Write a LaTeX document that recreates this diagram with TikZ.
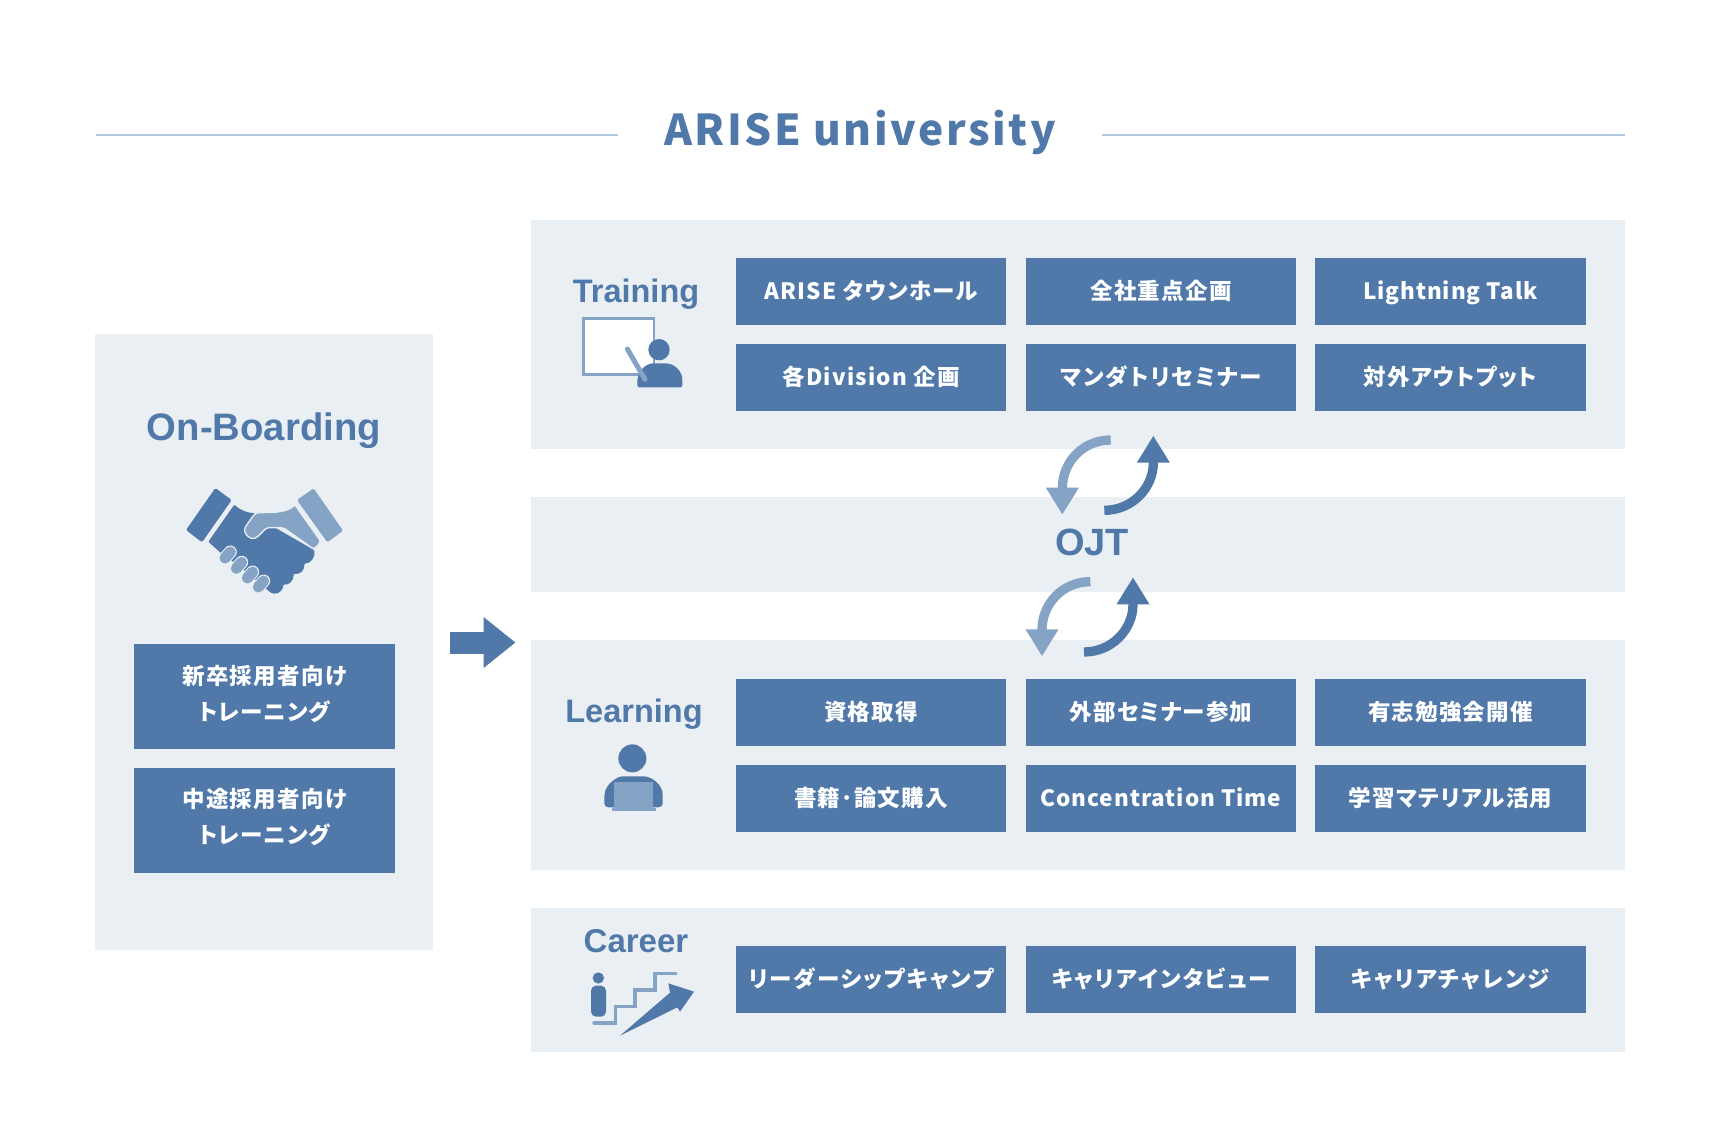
\documentclass[tikz,border=0pt]{standalone}
\usepackage{fontspec}
\usetikzlibrary{arrows.meta}
\setmainfont{Noto Sans CJK JP}
\newfontfamily\jpf[LetterSpace=5.5,RawFeature={+palt}]{Noto Sans CJK JP}
\newfontfamily\kanaf[LetterSpace=8.6,RawFeature={+palt}]{Noto Sans CJK JP}
\newfontfamily\latf[LetterSpace=4.3,RawFeature={+palt}]{Noto Sans CJK JP}
\newfontfamily\titlef[LetterSpace=6]{Noto Sans CJK JP}
\newfontfamily\headf{Liberation Sans}
\definecolor{darkb}{HTML}{5079A9}
\definecolor{lightb}{HTML}{85A3C4}
\definecolor{panelb}{HTML}{EAEFF4}
\definecolor{ruleb}{HTML}{B4C8DD}
\tikzset{
  panel/.style={fill=panelb,draw=none,inner sep=0pt,outer sep=0pt},
  wbox/.style={fill=darkb,text=white,minimum width=270.5pt,minimum height=67pt,inner sep=0pt,outer sep=0pt,align=center,font=\jpf\bfseries\fontsize{22.5}{36}\selectfont,execute at begin node=\strut,execute at end node=\strut},
  kbox/.style={wbox,font=\kanaf\bfseries\fontsize{22.5}{36}\selectfont},
  nbox/.style={wbox,font=\latf\bfseries\fontsize{22.5}{36}\selectfont},
  lbox/.style={wbox,minimum width=261pt,minimum height=105pt},
  head/.style={text=darkb,inner sep=0pt,font=\headf\bfseries\fontsize{32.5}{40}\selectfont},
  rule/.style={draw=ruleb,line width=1.6pt},
  bigflow/.style={draw=darkb,line width=22pt,-{Triangle[length=32pt,width=49pt]}},
  cyclelight/.style={draw=lightb,line width=9.3pt,-{Triangle[length=27pt,width=31pt]}},
  cycledark/.style={draw=darkb,line width=9.3pt,-{Triangle[length=27pt,width=31pt]}},
  zoomed/.style={x=.33333pt,y=-.33333pt},
}
\begin{document}
\begin{tikzpicture}[x=1pt,y=-1pt]
\useasboundingbox (0,0) rectangle (1720,1147);
\fill[white] (0,0) rectangle (1720,1147);
% title
\node[text=darkb,inner sep=0pt,font=\titlef\bfseries\fontsize{42.5}{50}\selectfont] (title) at (860,132) {ARISE university};
\coordinate (rl1) at (95.5,135); \coordinate (rl2) at (618,135);
\coordinate (rr1) at (1102,135); \coordinate (rr2) at (1625,135);
\draw[rule] (rl1) -- (rl2);
\draw[rule] (rr1) -- (rr2);
% panels
\node[panel,minimum width=338pt,minimum height=616pt] (onboard) at (264.25,642) {};
\node[panel,minimum width=1093.5pt,minimum height=229pt] (ptrain) at (1078,334.5) {};
\node[panel,minimum width=1093.5pt,minimum height=95pt] (pojt) at (1078,544.5) {};
\node[panel,minimum width=1093.5pt,minimum height=230pt] (plearn) at (1078,755) {};
\node[panel,minimum width=1093.5pt,minimum height=144pt] (pcareer) at (1078,980) {};
% headings
\node[head,font=\headf\bfseries\fontsize{38.3}{42}\selectfont] (honb) at (264,431) {On-Boarding};
\node[head] (htrain) at (636,294) {Training};
\node[head] (hlearn) at (634,714) {Learning};
\node[head,font=\headf\bfseries\fontsize{33}{40}\selectfont] (hcareer) at (636,941) {Career};
\node[head,font=\headf\bfseries\fontsize{38}{42}\selectfont] (hojt) at (1092,542) {OJT};
% on-boarding boxes
\node[lbox] (lb1) at (264.5,696.5) {\raisebox{-3.3pt}{新卒採用者向け}\\\raisebox{-3.3pt}{トレーニング}};
\node[lbox] (lb2) at (264.5,820) {\raisebox{-3.3pt}{中途採用者向け}\\\raisebox{-3.3pt}{トレーニング}};
% training
\node[wbox] (t1) at (871,291.5) {\raisebox{-1pt}{ARISE タウンホール}};
\node[wbox] (t2) at (1161,291.5) {\raisebox{-1pt}{全社重点企画}};
\node[nbox] (t3) at (1450.5,291.5) {\raisebox{-1pt}{Lightning Talk}};
\node[wbox] (t4) at (871,377.5) {\raisebox{-1pt}{各Division 企画}};
\node[kbox] (t5) at (1161,377.5) {\raisebox{-1pt}{マンダトリセミナー}};
\node[wbox] (t6) at (1450.5,377.5) {\raisebox{-1pt}{対外アウトプット}};
% learning
\node[wbox] (l1) at (871,712) {\raisebox{-1pt}{資格取得}};
\node[wbox] (l2) at (1161,712) {\raisebox{-1pt}{外部セミナー参加}};
\node[wbox] (l3) at (1450.5,712) {\raisebox{-1pt}{有志勉強会開催}};
\node[wbox] (l4) at (871,798) {\raisebox{-1pt}{書籍･論文購入}};
\node[nbox] (l5) at (1161,798) {\raisebox{-1pt}{Concentration Time}};
\node[wbox] (l6) at (1450.5,798) {\raisebox{-1pt}{学習マテリアル活用}};
% career
\node[kbox] (c1) at (871,979.5) {\raisebox{-1pt}{リーダーシップキャンプ}};
\node[kbox] (c2) at (1161,979.5) {\raisebox{-1pt}{キャリアインタビュー}};
\node[kbox] (c3) at (1450.5,979.5) {\raisebox{-1pt}{キャリアチャレンジ}};
% flow arrow
\coordinate (flowS) at (450,642.5); \coordinate (flowE) at (515.5,642.5);
\draw[bigflow] (flowS) -- (flowE);
% OJT cycles
\begin{scope}[shift={(1000,420)},zoomed]
  \foreach \dx/\dy in {0/0,-61/425}{
    \begin{scope}[shift={(\dx,\dy)}]
    \draw[cyclelight] (332,60) .. controls (250,60) and (187,125) .. (187,205) -- (187,284);
    \draw[cycledark] (313,271) .. controls (395,271) and (460,205) .. (460,128) -- (460,47);
    \end{scope}
  }
\end{scope}
% handshake
\begin{scope}[shift={(140,470)},zoomed]
  \fill[darkb,rounded corners=1.5pt] (226,54) -- (275,90) -- (186,217) -- (138,180) -- cycle;
  \fill[lightb,rounded corners=1.5pt] (521,55) -- (609,182) -- (562,217) -- (471,90) -- cycle;
  \fill[darkb,rounded corners=1pt] (283,104) .. controls (300,120) and (320,128) .. (345,130) -- (400,170) -- (522,240) .. controls (528,262) and (510,282) .. (493,280) .. controls (495,300) and (480,315) .. (461,311) .. controls (462,332) and (445,347) .. (430,343) .. controls (428,368) and (405,380) .. (385,362) -- (300,290) -- (240,247) -- (205,215) -- cycle;
  \filldraw[fill=lightb,draw=panelb,line width=1.3pt,rounded corners=2pt] (465,105) -- (543,215) -- (522,238) -- (430,173) -- (380,173) -- (350,203) .. controls (330,210) and (305,190) .. (320,165) -- (345,130) .. controls (375,125) and (435,135) .. (465,105);
  \foreach \cx/\cy in {263/255,297/286,330/315,363/342}{
    \draw[panelb,line width=13pt,line cap=round] ({\cx-8},{\cy+9}) -- ({\cx+8},{\cy-9});
    \draw[lightb,line width=11pt,line cap=round] ({\cx-8},{\cy+9}) -- ({\cx+8},{\cy-9});
  }
\end{scope}
% training icon
\begin{scope}[shift={(540,250)},zoomed]
  \filldraw[fill=white,draw=lightb,line width=2.6pt] (130,205) rectangle (342,373);
  \fill[darkb] (357,299) circle[radius=32];
  \fill[darkb,rounded corners=2pt] (292,412) -- (292,395) .. controls (295,360) and (320,340) .. (345,340) -- (370,340) .. controls (405,340) and (427,365) .. (427,395) -- (427,412) -- cycle;
  \draw[lightb,line width=5pt,line cap=round] (262,297) -- (315,388);
\end{scope}
% learning icon
\begin{scope}[shift={(560,720)},zoomed]
  \fill[darkb] (217,115) circle[radius=42];
  \fill[darkb,rounded corners=4pt] (133,262) -- (133,235) .. controls (135,195) and (170,169) .. (200,169) -- (240,169) .. controls (275,169) and (308,195) .. (308,235) -- (308,262) -- cycle;
  \fill[lightb] (163,187) rectangle (278,265);
  \fill[lightb] (155,265) rectangle (287,272);
\end{scope}
% career icon
\begin{scope}[shift={(570,920)},zoomed]
  \fill[darkb] (85,174) circle[radius=17];
  \fill[darkb,rounded corners=5pt] (63,290) -- (63,197) -- (108,197) -- (108,290) -- cycle;
  \draw[lightb,line width=3.2pt,line cap=round,line join=miter] (72,309) -- (137,309) -- (137,260) -- (195,260) -- (195,210) -- (255,210) -- (255,160) -- (318,160);
  \fill[darkb] (150,347) -- (300,218) -- (295,190) -- (372,215) -- (330,275) -- (322,262) -- cycle;
\end{scope}
\end{tikzpicture}
\end{document}
